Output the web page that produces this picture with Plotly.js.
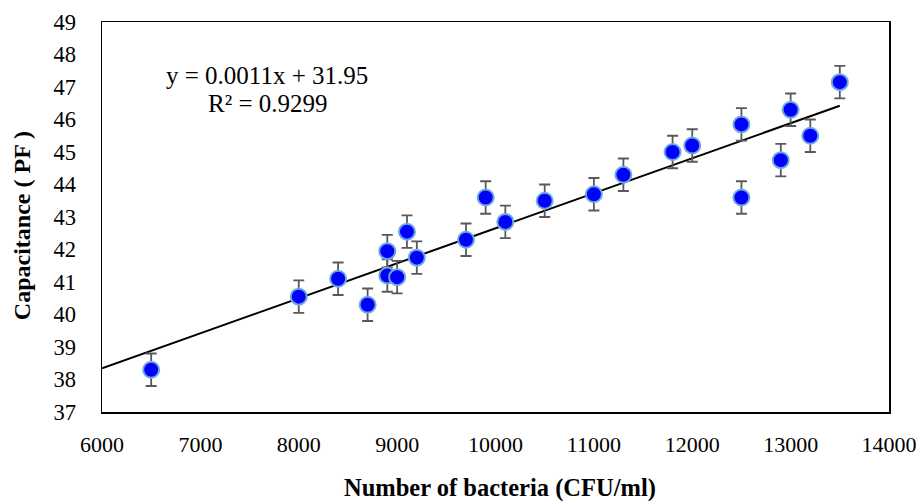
<!DOCTYPE html>
<html>
<head>
<meta charset="utf-8">
<script src="https://cdn.plot.ly/plotly-3.0.1.min.js"></script>
<style>html,body{margin:0;padding:0;background:#fff;}#chart{width:918px;height:501px;}</style>
</head>
<body>
<div id="chart"></div>
<script>
// Data
const bacteria = [6500, 8000, 8400, 8700, 8900, 8900, 9000, 9100, 9200, 9700, 9900, 10100, 10500, 11000, 11300, 11800, 12000, 12500, 12500, 12900, 13000, 13200, 13500];
const capacitance = [38.3, 40.55, 41.1, 40.3, 41.95, 41.2, 41.15, 42.55, 41.75, 42.3, 43.6, 42.85, 43.5, 43.7, 44.3, 45.0, 45.2, 45.85, 43.6, 44.75, 46.3, 45.5, 47.15];
const errorBars = [0.5, 0.5, 0.5, 0.5, 0.5, 0.5, 0.5, 0.5, 0.5, 0.5, 0.5, 0.5, 0.5, 0.5, 0.5, 0.5, 0.5, 0.5, 0.5, 0.5, 0.5, 0.5, 0.5];
const trendRange = [6000, 13500];
const xTicks = [6000, 7000, 8000, 9000, 10000, 11000, 12000, 13000, 14000];
const yTicks = [37, 38, 39, 40, 41, 42, 43, 44, 45, 46, 47, 48, 49];
const equationText = 'y = 0.0011x + 31.95';
const r2Text = 'R² = 0.9299';

// Linear least squares fit for trendline
const n = bacteria.length;
let sx = 0, sy = 0, sxx = 0, sxy = 0;
for (let i = 0; i < n; i++) { sx += bacteria[i]; sy += capacitance[i]; sxx += bacteria[i]*bacteria[i]; sxy += bacteria[i]*capacitance[i]; }
const slope = (n*sxy - sx*sy) / (n*sxx - sx*sx);
const intercept = (sy - slope*sx) / n;
const trendY = trendRange.map(x => slope*x + intercept);

const font = "'Liberation Serif', 'Times New Roman', serif";

const traces = [
  {
    x: trendRange, y: trendY, mode: 'lines', type: 'scatter',
    line: {color: '#000000', width: 2}, hoverinfo: 'skip', showlegend: false
  },
  {
    x: bacteria, y: capacitance, mode: 'markers', type: 'scatter',
    marker: {color: '#0000FF', size: 16, line: {color: '#6FA8DC', width: 2}},
    error_y: {type: 'data', array: errorBars, visible: true, color: '#595959', thickness: 1.8, width: 5.5},
    showlegend: false
  }
];

const layout = {
  width: 918, height: 501,
  margin: {l: 102, r: 29, t: 22, b: 89},
  paper_bgcolor: '#ffffff', plot_bgcolor: '#ffffff',
  font: {family: font, color: '#000000', size: 22},
  showlegend: false,
  xaxis: {
    range: [6000, 14000], tickvals: xTicks, ticktext: xTicks.map(String),
    showgrid: false, zeroline: false, showline: true, mirror: true,
    linecolor: '#000000', linewidth: 1.5, ticks: '', ticklen: 0,
    ticklabelstandoff: 12, ticklabeloverflow: 'allow',
    tickfont: {family: font, size: 22, color: '#000000'}
  },
  yaxis: {
    range: [37, 49], tickvals: yTicks, ticktext: yTicks.map(String),
    showgrid: false, zeroline: false, showline: true, mirror: true,
    linecolor: '#000000', linewidth: 1.5, ticks: '', ticklen: 0,
    ticklabelstandoff: 20, ticklabeloverflow: 'allow',
    tickfont: {family: font, size: 22.5, color: '#000000'}
  },
  annotations: [
    {
      xref: 'paper', yref: 'paper', x: 0.2097, y: 0.864, xanchor: 'center', yanchor: 'middle',
      text: equationText, showarrow: false, font: {family: font, size: 25, color: '#000000'}
    },
    {
      xref: 'paper', yref: 'paper', x: 0.211, y: 0.792, xanchor: 'center', yanchor: 'middle',
      text: r2Text, showarrow: false, font: {family: font, size: 25, color: '#000000'}
    },
    {
      xref: 'paper', yref: 'paper', x: 0.506, y: -0.194, xanchor: 'center', yanchor: 'middle',
      text: '<b>Number of bacteria (CFU/ml)</b>', showarrow: false, font: {family: font, size: 24.5, color: '#000000'}
    },
    {
      xref: 'paper', yref: 'paper', x: -0.1017, y: 0.479, xanchor: 'center', yanchor: 'middle', textangle: -90,
      text: '<b>Capacitance ( PF )</b>', showarrow: false, font: {family: font, size: 24, color: '#000000'}
    }
  ]
};

Plotly.newPlot('chart', traces, layout, {staticPlot: true, displayModeBar: false});
</script>
</body>
</html>
